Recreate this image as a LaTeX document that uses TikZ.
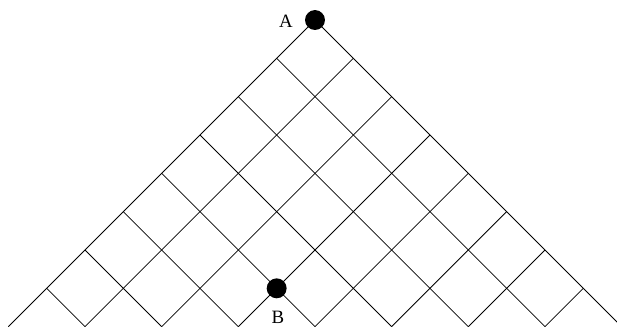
\documentclass[tikz,border=0pt]{standalone}
\usepackage{fontspec}
\setmainfont{Liberation Serif}
\begin{document}
\begin{tikzpicture}[x=1cm,y=1cm,
  gridline/.style={line width=0.6pt,black},
  dotmark/.style={circle,fill=black,inner sep=0pt,minimum size=0.52cm},
  lbl/.style={font=\fontsize{14}{16}\selectfont,inner sep=0pt}]
\useasboundingbox (-8.218,-7.983) rectangle (7.879,0.522);
\begin{scope}
\clip (-8.218,-7.983) rectangle (7.879,0.522);
\foreach \k in {0,...,8}{
  \pgfmathtruncatemacro{\m}{8-\k}
  % a = k constant, b from 0 to 8-k
  \coordinate (s\k) at ({\k},{-\k});
  \coordinate (e\k) at ({\k-\m},{-\k-\m});
  \draw[gridline] (s\k) -- (e\k);
  % b = k constant, a from 0 to 8-k
  \coordinate (t\k) at ({-\k},{-\k});
  \coordinate (f\k) at ({\m-\k},{-\m-\k});
  \draw[gridline] (t\k) -- (f\k);
}
\end{scope}
\node[dotmark] (A) at (0,0) {};
\node[dotmark] (B) at (-1,-7) {};
\node[lbl] (la) at (-0.757,-0.03) {A};
\node[lbl] (lb) at (-0.965,-7.77) {B};
\end{tikzpicture}
\end{document}
